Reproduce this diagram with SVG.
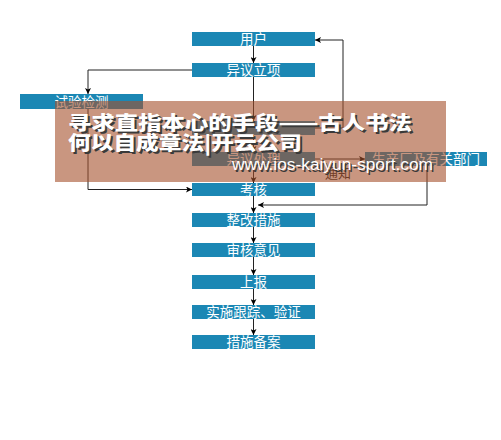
<svg xmlns="http://www.w3.org/2000/svg" width="501" height="440" viewBox="0 0 501 440">
<defs>
<marker id="arr" viewBox="0 0 8 8" refX="8" refY="4" markerWidth="6" markerHeight="6" orient="auto" markerUnits="userSpaceOnUse">
<path d="M0,0 L8,4 L0,8 L2,4 Z" fill="#000"/>
</marker>
<style>
.box{fill:#1b87b4}
.t{fill:#fff;font-family:"Noto Sans CJK SC","Noto Sans",sans-serif;font-size:13.5px;text-anchor:middle}
.ln{fill:none;stroke:#222;stroke-width:1}
.big{font-family:"Noto Sans CJK SC","Noto Sans",sans-serif;font-weight:900;font-size:19px}
.url{font-family:"Liberation Sans",Arial,sans-serif;font-size:16px}
</style>
</defs>
<rect width="501" height="440" fill="#fff"/>
<g id="connectors">
<line class="ln" x1="253.5" y1="46" x2="253.5" y2="63" marker-end="url(#arr)"/>
<polyline class="ln" points="192,70 88,70 88,94" marker-end="url(#arr)"/>
<line class="ln" x1="253.5" y1="77" x2="253.5" y2="121" marker-end="url(#arr)"/>
<polyline class="ln" points="315,128 343,128 343,40 315,40" marker-end="url(#arr)"/>
<line class="ln" x1="253.5" y1="135" x2="253.5" y2="152" marker-end="url(#arr)"/>
<line class="ln" x1="315" y1="159" x2="365" y2="159" marker-end="url(#arr)"/>
<text x="338" y="178" font-family="'Noto Sans CJK SC',sans-serif" font-size="13" fill="#222" text-anchor="middle">通知</text>
<line class="ln" x1="253.5" y1="166" x2="253.5" y2="183" marker-end="url(#arr)"/>
<polyline class="ln" points="88,109 88,189.5 192,189.5" marker-end="url(#arr)"/>
<polyline class="ln" points="427,166 427,205 258,205" marker-end="url(#arr)"/>
<line class="ln" x1="253.5" y1="196" x2="253.5" y2="213" marker-end="url(#arr)"/>
<line class="ln" x1="253.5" y1="227" x2="253.5" y2="243" marker-end="url(#arr)"/>
<line class="ln" x1="253.5" y1="257" x2="253.5" y2="275" marker-end="url(#arr)"/>
<line class="ln" x1="253.5" y1="289" x2="253.5" y2="305" marker-end="url(#arr)"/>
<line class="ln" x1="253.5" y1="319" x2="253.5" y2="335" marker-end="url(#arr)"/>
</g>
<g id="n-user"><rect class="box" x="192" y="32" width="123" height="14"/><text class="t" x="253.5" y="44">用户</text></g>
<g id="n-lixiang"><rect class="box" x="192" y="63" width="123" height="14"/><text class="t" x="253.5" y="75">异议立项</text></g>
<g id="n-shiyan"><rect class="box" x="20" y="94" width="123" height="15"/><text class="t" x="81.5" y="106.5">试验检测</text></g>
<g id="n-hidden1"><rect class="box" x="192" y="121" width="123" height="14"/></g>
<g id="n-chuli"><rect class="box" x="192" y="152" width="123" height="14"/><text class="t" x="253.5" y="164">异议处理</text></g>
<g id="n-factory"><rect class="box" x="365" y="152" width="122" height="14"/><text class="t" x="426" y="164">生产厂及有关部门</text></g>
<g id="n-kaohe"><rect class="box" x="192" y="183" width="123" height="13"/><text class="t" x="253.5" y="194.5">考核</text></g>
<g id="n-zhenggai"><rect class="box" x="192" y="213" width="123" height="14"/><text class="t" x="253.5" y="225">整改措施</text></g>
<g id="n-shenhe"><rect class="box" x="192" y="243" width="123" height="14"/><text class="t" x="253.5" y="255">审核意见</text></g>
<g id="n-shangbao"><rect class="box" x="192" y="275" width="123" height="14"/><text class="t" x="253.5" y="287">上报</text></g>
<g id="n-genzong"><rect class="box" x="192" y="305" width="123" height="14"/><text class="t" x="253.5" y="317">实施跟踪、验证</text></g>
<g id="n-beian"><rect class="box" x="192" y="335" width="123" height="14"/><text class="t" x="253.5" y="347">措施备案</text></g>
<g id="overlay">
<rect x="55" y="101" width="391" height="81" fill="#A5502B" fill-opacity="0.6"/>
<text class="big" x="70" y="132" fill="#3a3a3a" textLength="344" lengthAdjust="spacingAndGlyphs">寻求直指本心的手段——古人书法</text>
<text class="big" x="68" y="130" fill="#fff" textLength="344" lengthAdjust="spacingAndGlyphs">寻求直指本心的手段——古人书法</text>
<text class="big" x="70" y="152" fill="#3a3a3a" textLength="234" lengthAdjust="spacingAndGlyphs">何以自成章法|开云公司</text>
<text class="big" x="68" y="150" fill="#fff" textLength="234" lengthAdjust="spacingAndGlyphs">何以自成章法|开云公司</text>
<text class="url" x="233.5" y="171.5" fill="#3a3a3a" textLength="201" lengthAdjust="spacingAndGlyphs">www.ios-kaiyun-sport.com</text>
<text class="url" x="232" y="170" fill="#fff" textLength="201" lengthAdjust="spacingAndGlyphs">www.ios-kaiyun-sport.com</text>
</g>
</svg>
